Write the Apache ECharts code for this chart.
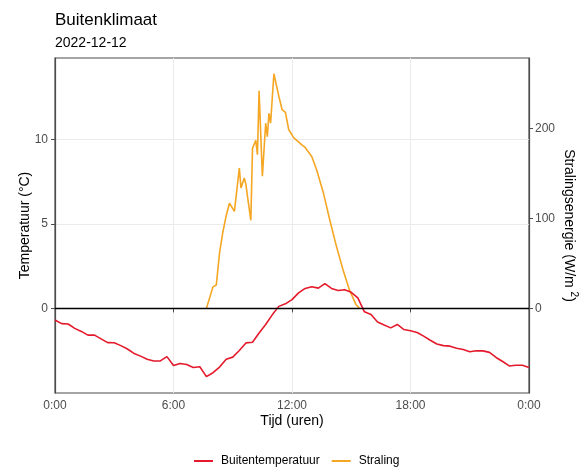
<!DOCTYPE html>
<html>
<head>
<meta charset="utf-8">
<script src="https://cdn.jsdelivr.net/npm/echarts@6/dist/echarts.min.js"></script>
<style>
  html, body { margin: 0; padding: 0; background: #ffffff; }
  #chart { width: 582px; height: 470px; }
</style>
</head>
<body>
<div id="chart"></div>
<script>
// Outdoor temperature (°C), one reading every 20 minutes from 0:00 to 24:00
const tempStepMinutes = 20;
const tempValues = [
  -0.69, -0.90, -0.92, -1.18, -1.36, -1.58, -1.58, -1.80, -2.02,
  -2.03, -2.20, -2.40, -2.66, -2.82, -3.00, -3.11, -3.10, -2.85,
  -3.38, -3.26, -3.32, -3.49, -3.45, -4.03, -3.80, -3.47, -3.00,
  -2.88, -2.49, -2.04, -2.00, -1.45, -0.95, -0.38, 0.12, 0.27,
  0.52, 0.92, 1.18, 1.28, 1.20, 1.46, 1.18, 1.06, 1.10,
  0.95, 0.62, -0.20, -0.36, -0.80, -0.98, -1.15, -0.95, -1.25,
  -1.32, -1.42, -1.64, -1.88, -2.10, -2.20, -2.23, -2.36, -2.43,
  -2.56, -2.50, -2.51, -2.60, -2.90, -3.14, -3.40, -3.36, -3.36,
  -3.50
];

// Solar radiation (W/m2): minute of the day and measured value
const radMinutes = [
  460, 470, 480, 490, 500, 510, 520, 530, 545, 560,
  565, 575, 580, 585, 595, 600, 610, 615, 620, 630,
  640, 645, 650, 655, 665, 680, 690, 700, 710, 725,
  750, 760, 780, 795, 815, 835, 855, 875, 895, 915,
  925
];
const radValues = [
  0, 12, 24, 26, 62, 85, 103, 117, 108, 156,
  134, 145, 138, 124, 98, 178, 187, 171, 242, 147,
  206, 191, 217, 206, 261, 236, 221, 218, 199, 190,
  182, 179, 169, 154, 129, 98, 69, 43, 20, 4,
  0
];

// Axis ticks
const hourTicks = [0, 360, 720, 1080, 1440];
const tempTicks = [0, 5, 10];
const radTicks = [0, 100, 200];

// Temperature range and the W/m2 per °C factor of the secondary axis
const tempMin = -5, tempMax = 14.8;
const radPerDegree = 18.82;

const seriesNames = ['Buitentemperatuur', 'Straling'];
const colors = ['#e41a2c', '#f5a623'];

const tempData = tempValues.map((v, i) => [i * tempStepMinutes, v]);
const radData = radMinutes.map((m, i) => [m, radValues[i]]);

const FONT = '"Liberation Sans", Arial, sans-serif';
const gridColor = '#ebebeb';
const frameColor = '#4d4d4d';
const tickText = '#4d4d4d';

const chart = echarts.init(document.getElementById('chart'), null, { renderer: 'canvas' });

chart.setOption({
  animation: false,
  backgroundColor: '#ffffff',
  textStyle: { fontFamily: FONT },
  title: [
    { text: 'Buitenklimaat', left: 55, top: 12, padding: 0,
      textStyle: { fontFamily: FONT, fontSize: 17, fontWeight: 'normal', color: '#000' } },
    { text: '2022-12-12', left: 55, top: 36, padding: 0,
      textStyle: { fontFamily: FONT, fontSize: 14, fontWeight: 'normal', color: '#000' } }
  ],
  legend: {
    data: seriesNames,
    left: 194, top: 455, padding: 0,
    icon: 'rect', itemWidth: 19, itemHeight: 2, itemGap: 12,
    textStyle: { fontFamily: FONT, fontSize: 12, color: '#000', padding: [0, 0, 0, 3] }
  },
  grid: {
    left: 55, right: 53, top: 58, bottom: 77,
    show: true, borderColor: frameColor, borderWidth: 1.2,
    containLabel: false, outerBoundsMode: 'none'
  },
  xAxis: {
    type: 'value', min: 0, max: 1440, interval: 180,
    name: 'Tijd (uren)', nameLocation: 'middle', nameGap: 21, nameMoveOverlap: false,
    nameTextStyle: { fontFamily: FONT, fontSize: 14, color: '#000' },
    axisLine: { show: true, lineStyle: { color: frameColor, width: 1.2 } },
    axisTick: { show: true, customValues: hourTicks, length: 4, lineStyle: { color: frameColor } },
    axisLabel: {
      customValues: hourTicks, margin: 7, fontSize: 12, color: tickText, fontFamily: FONT,
      formatter: v => ((v / 60) % 24) + ':00'
    },
    splitLine: { show: true, lineStyle: { color: gridColor, width: 1 } }
  },
  yAxis: [
    {
      type: 'value', min: tempMin, max: tempMax, interval: 2.5,
      name: 'Temperatuur (°C)', nameLocation: 'middle', nameGap: 23, nameRotate: 90,
      nameMoveOverlap: false,
      nameTextStyle: { fontFamily: FONT, fontSize: 14, color: '#000' },
      axisLine: { show: true, lineStyle: { color: frameColor, width: 1.2 } },
      axisTick: { show: true, customValues: tempTicks, length: 4, lineStyle: { color: frameColor } },
      axisLabel: { customValues: tempTicks, margin: 7, fontSize: 12, color: tickText, fontFamily: FONT },
      splitLine: { show: true, lineStyle: { color: gridColor, width: 1 } }
    },
    {
      type: 'value', min: tempMin * radPerDegree, max: tempMax * radPerDegree,
      position: 'right',
      name: 'Stralingsenergie (W/m {sup|2})', nameLocation: 'middle', nameGap: 30, nameRotate: -90,
      nameMoveOverlap: false,
      nameTextStyle: {
        fontFamily: FONT, fontSize: 14, color: '#000', lineHeight: 20,
        rich: { sup: { fontFamily: FONT, fontSize: 10, lineHeight: 10, verticalAlign: 'top', color: '#000' } }
      },
      axisLine: { show: true, lineStyle: { color: frameColor, width: 1.2 } },
      axisTick: { show: true, customValues: radTicks, length: 4, lineStyle: { color: frameColor } },
      axisLabel: { customValues: radTicks, margin: 6, fontSize: 12, color: tickText, fontFamily: FONT },
      splitLine: { show: false }
    }
  ],
  series: [
    {
      name: seriesNames[0], type: 'line', yAxisIndex: 0, data: tempData,
      showSymbol: false, symbol: 'none', color: colors[0],
      lineStyle: { color: colors[0], width: 1.6 }, z: 3,
      markLine: {
        silent: true, symbol: 'none', label: { show: false },
        lineStyle: { color: '#000', width: 1.4, type: 'solid' },
        data: [{ yAxis: 0 }], z: 4
      }
    },
    {
      name: seriesNames[1], type: 'line', yAxisIndex: 1, data: radData,
      showSymbol: false, symbol: 'none', color: colors[1],
      lineStyle: { color: colors[1], width: 1.6 }, z: 2
    }
  ]
});
</script>
</body>
</html>
